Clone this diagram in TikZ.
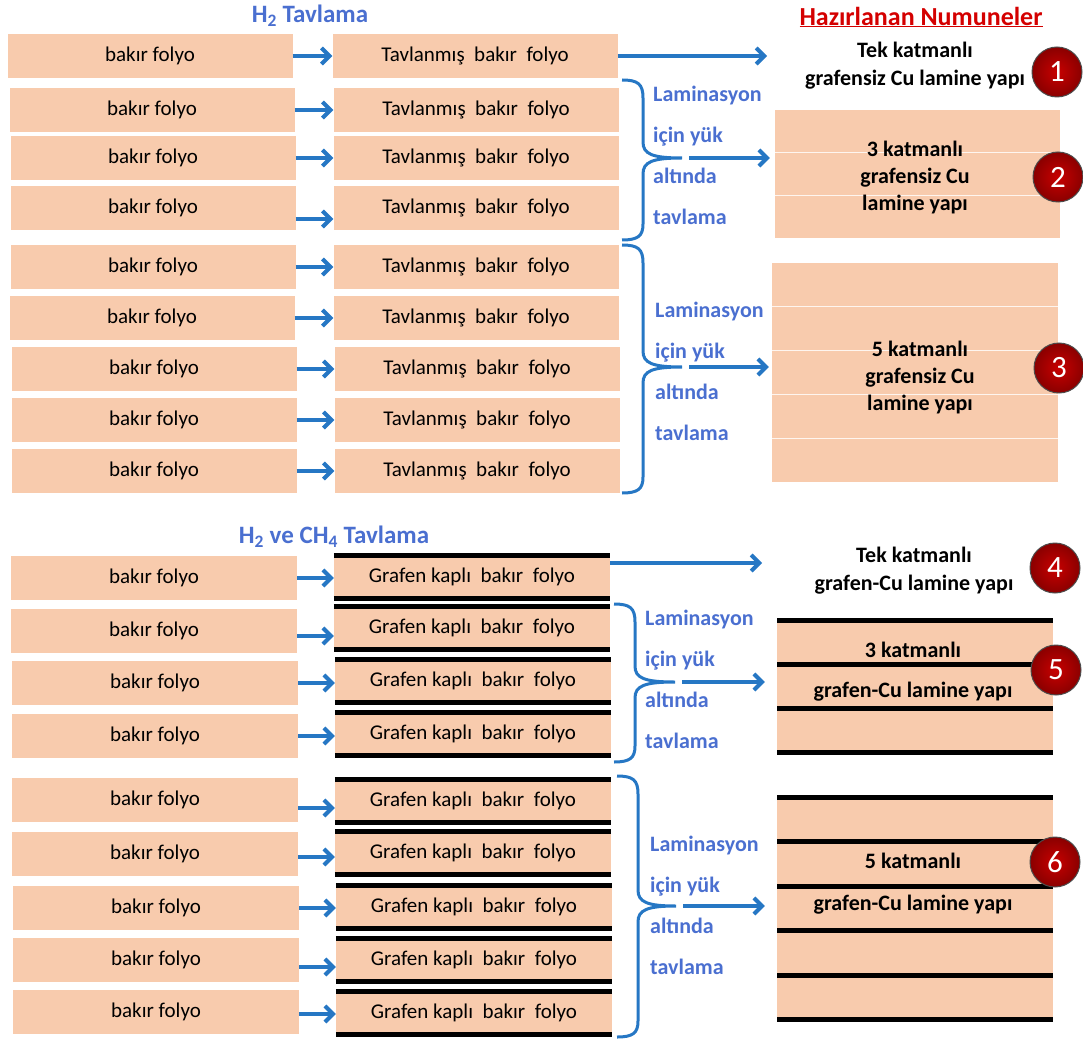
\documentclass[tikz,border=0pt]{standalone}
\usepackage{fontspec}
\setmainfont{Carlito}
\usetikzlibrary{arrows.meta}

\definecolor{peach}{HTML}{F8CBAD}
\definecolor{arrblue}{HTML}{2677C4}
\definecolor{txtblue}{HTML}{4A6FD0}
\definecolor{hdred}{HTML}{D40000}
\definecolor{ballin}{HTML}{C80000}
\definecolor{ballout}{HTML}{8A0000}

\tikzset{
  foil/.style={fill=peach, minimum width=285, minimum height=44, inner sep=0pt,
    font=\fontsize{21}{25}\selectfont},
  grafoil/.style={foil, minimum width=276, minimum height=42},
  gbar/.style={line width=5pt},
  arr/.style={arrblue, line width=4pt, -{Straight Barb[length=8pt,width=16pt]}},
  brc/.style={arrblue, line width=3pt},
  lam/.style={txtblue, anchor=west, align=left, inner sep=0pt,
    font=\bfseries\fontsize{22}{41}\selectfont},
  sample/.style={fill=peach, inner sep=0pt},
  stext/.style={align=center, inner sep=0pt, font=\bfseries\fontsize{22}{28}\selectfont},
  layer/.style={white!80!peach, line width=1.2pt},
  num/.style={circle, minimum size=50, inner sep=0pt, draw=gray!60!black, line width=1pt,
    inner color=ballin, outer color=ballout, text=white, font=\fontsize{31}{36}\selectfont},
  head/.style={txtblue, inner sep=0pt, font=\bfseries\fontsize{25}{30}\selectfont}
}

\begin{document}
\begin{tikzpicture}[x=1pt, y=-1pt]
    \useasboundingbox (0,0) rectangle (1083,1040);

    % Headers
    \node[head] (h1) at (310,16) {H\textsubscript{2} Tavlama};
    \node[head] (h2) at (334,537) {H\textsubscript{2} ve CH\textsubscript{4} Tavlama};
    \node[hdred, inner sep=0pt, font=\bfseries\fontsize{26}{30}\selectfont] (hn) at (921,17)
        {\underline{Hazırlanan Numuneler}};

    % H2 annealing - copper foils
    \node[foil] (b1) at (150,56) {bakır folyo};
    \node[foil] (b2) at (152,110) {bakır folyo};
    \node[foil] (b3) at (153,158) {bakır folyo};
    \node[foil] (b4) at (153,208) {bakır folyo};
    \node[foil] (b5) at (153,267) {bakır folyo};
    \node[foil] (b6) at (152,318) {bakır folyo};
    \node[foil] (b7) at (154,369) {bakır folyo};
    \node[foil] (b8) at (154,420) {bakır folyo};
    \node[foil] (b9) at (154,471) {bakır folyo};

    % H2 annealing - annealed foils
    \node[foil] (t1) at (475,56) {Tavlanmış\ \ bakır\ \ folyo};
    \node[foil] (t2) at (476,110) {Tavlanmış\ \ bakır\ \ folyo};
    \node[foil] (t3) at (476,158) {Tavlanmış\ \ bakır\ \ folyo};
    \node[foil] (t4) at (476,208) {Tavlanmış\ \ bakır\ \ folyo};
    \node[foil] (t5) at (476,267) {Tavlanmış\ \ bakır\ \ folyo};
    \node[foil] (t6) at (476,318) {Tavlanmış\ \ bakır\ \ folyo};
    \node[foil] (t7) at (477,369) {Tavlanmış\ \ bakır\ \ folyo};
    \node[foil] (t8) at (477,420) {Tavlanmış\ \ bakır\ \ folyo};
    \node[foil] (t9) at (477,471) {Tavlanmış\ \ bakır\ \ folyo};

    % Arrows between them
    \draw[arr] (b1.east) -- (b1.east -| t1.west);
    \draw[arr] (b2.east) -- (b2.east -| t2.west);
    \draw[arr] (b3.east) -- (b3.east -| t3.west);
    \draw[arr] ([yshift=-11pt]b4.east) -- ([yshift=-11pt]b4.east -| t4.west);
    \draw[arr] (b5.east) -- (b5.east -| t5.west);
    \draw[arr] (b6.east) -- (b6.east -| t6.west);
    \draw[arr] (b7.east) -- (b7.east -| t7.west);
    \draw[arr] (b8.east) -- (b8.east -| t8.west);
    \draw[arr] (b9.east) -- (b9.east -| t9.west);

    % H2 + CH4 annealing - copper foils
    \node[foil, minimum width=286] (c1) at (154,578) {bakır folyo};
    \node[foil, minimum width=286] (c2) at (154,631) {bakır folyo};
    \node[foil, minimum width=286] (c3) at (155,683) {bakır folyo};
    \node[foil, minimum width=286] (c4) at (155,736) {bakır folyo};
    \node[foil, minimum width=286] (c5) at (155,800) {bakır folyo};
    \node[foil, minimum width=286] (c6) at (155,854) {bakır folyo};
    \node[foil, minimum width=286] (c7) at (156,908) {bakır folyo};
    \node[foil, minimum width=286] (c8) at (156,960) {bakır folyo};
    \node[foil, minimum width=286] (c9) at (156,1012) {bakır folyo};

    % H2 + CH4 annealing - graphene coated foils
    \node[grafoil] (g1) at (472,577) {Grafen kaplı\ \ bakır\ \ folyo};
    \node[grafoil] (g2) at (472,628) {Grafen kaplı\ \ bakır\ \ folyo};
    \node[grafoil] (g3) at (473,681) {Grafen kaplı\ \ bakır\ \ folyo};
    \node[grafoil] (g4) at (473,734) {Grafen kaplı\ \ bakır\ \ folyo};
    \node[grafoil] (g5) at (473,801) {Grafen kaplı\ \ bakır\ \ folyo};
    \node[grafoil] (g6) at (473,853) {Grafen kaplı\ \ bakır\ \ folyo};
    \node[grafoil] (g7) at (474,907) {Grafen kaplı\ \ bakır\ \ folyo};
    \node[grafoil] (g8) at (474,960) {Grafen kaplı\ \ bakır\ \ folyo};
    \node[grafoil] (g9) at (474,1013) {Grafen kaplı\ \ bakır\ \ folyo};
    \foreach \i in {1,...,9}
        \draw[gbar] (g\i.north west) -- (g\i.north east) (g\i.south west) -- (g\i.south east);

    % Arrows between them
    \draw[arr] (c1.east) -- (c1.east -| g1.west);
    \draw[arr] ([yshift=-5pt]c2.east) -- ([yshift=-5pt]c2.east -| g2.west);
    \draw[arr] (c3.east) -- (c3.east -| g3.west);
    \draw[arr] (c4.east) -- (c4.east -| g4.west);
    \draw[arr] ([yshift=-8pt]c5.east) -- ([yshift=-8pt]c5.east -| g5.west);
    \draw[arr] ([yshift=-3pt]c6.east) -- ([yshift=-3pt]c6.east -| g6.west);
    \draw[arr] (c7.east) -- (c7.east -| g7.west);
    \draw[arr] ([yshift=-7pt]c8.east) -- ([yshift=-7pt]c8.east -| g8.west);
    \draw[arr] ([yshift=-2pt]c9.east) -- ([yshift=-2pt]c9.east -| g9.west);

    % Braces
    \draw[brc] (622,80) .. controls (638,80) and (643,84) .. (643,98) -- (643,142)
        .. controls (643,154) and (652,158) .. (682,158)
        .. controls (652,158) and (643,162) .. (643,174) -- (643,224)
        .. controls (643,236) and (638,240) .. (622,240);
    \draw[brc] (622,245) .. controls (638,245) and (643,249) .. (643,263) -- (643,351)
        .. controls (643,363) and (652,367) .. (682,367)
        .. controls (652,367) and (643,371) .. (643,383) -- (643,477)
        .. controls (643,489) and (638,493) .. (622,493);
    \draw[brc] (614,604) .. controls (630,604) and (635,608) .. (635,622) -- (635,666)
        .. controls (635,678) and (644,682) .. (675,682)
        .. controls (644,682) and (635,686) .. (635,698) -- (635,746)
        .. controls (635,758) and (630,762) .. (614,762);
    \draw[brc] (617,776) .. controls (633,776) and (638,780) .. (638,794) -- (638,890)
        .. controls (638,902) and (647,906) .. (676,906)
        .. controls (647,906) and (638,910) .. (638,922) -- (638,1021)
        .. controls (638,1033) and (633,1037) .. (617,1037);

    % Lamination labels
    \node[lam] (l1) at (653,155) {Laminasyon\\için yük\\altında\\tavlama};
    \node[lam] (l2) at (655,371) {Laminasyon\\için yük\\altında\\tavlama};
    \node[lam] (l3) at (645,679) {Laminasyon\\için yük\\altında\\tavlama};
    \node[lam] (l4) at (650,905) {Laminasyon\\için yük\\altında\\tavlama};

    % Prepared samples
    \node[stext] (n1) at (915,66) {Tek katmanlı\\grafensiz Cu\ lamine\ yapı};
    \node[sample, minimum width=285, minimum height=128] (s2) at (917.5,174) {};
    \foreach \y in {152.7,195.3} \draw[layer] (775,\y) -- (1060,\y);
    \node[stext, font=\bfseries\fontsize{22}{27}\selectfont] (n2) at (915,178)
        {3 katmanlı\\grafensiz Cu\\lamine\ yapı};
    \node[sample, minimum width=286, minimum height=219] (s3) at (915,372.5) {};
    \foreach \y in {306.8,350.6,394.4,438.2} \draw[layer] (772,\y) -- (1058,\y);
    \node[stext, font=\bfseries\fontsize{22}{27}\selectfont] (n3) at (920,378)
        {5 katmanlı\\grafensiz Cu\\lamine\ yapı};

    \node[stext] (n4) at (914,571) {Tek katmanlı\\grafen-Cu lamine\ yapı};
    \node[sample, minimum width=276, minimum height=132] (s5) at (915,686) {};
    \foreach \y in {620,664,708,752} \draw[gbar] (777,\y) -- (1053,\y);
    \node[stext, font=\bfseries\fontsize{22}{40}\selectfont] (n5) at (913,672)
        {3 katmanlı\\grafen-Cu lamine\ yapı};
    \node[sample, minimum width=276, minimum height=222] (s6) at (915,908) {};
    \foreach \y in {797,841,886,930,975,1019} \draw[gbar] (777,\y) -- (1053,\y);
    \node[stext, font=\bfseries\fontsize{22}{42}\selectfont] (n6) at (913,884)
        {5 katmanlı\\grafen-Cu lamine\ yapı};

    % Arrows to samples
    \coordinate (e1) at (767,55);
    \coordinate (e4) at (762,563);
    \draw[arr] (t1.east) -- (t1.east -| e1);
    \draw[arr] ([yshift=14pt]g1.east) -- (e4);
    \coordinate (k1) at (689,158);
    \coordinate (k2) at (689,367);
    \coordinate (k3) at (682,682);
    \coordinate (k4) at (683,906);
    \draw[arr, shorten >=5pt] (k1) -- (k1 -| s2.west);
    \draw[arr, shorten >=3pt] (k2) -- (k2 -| s3.west);
    \draw[arr, shorten >=12pt] (k3) -- (k3 -| s5.west);
    \draw[arr, shorten >=12pt] (k4) -- (k4 -| s6.west);

    % Sample numbers
    \node[num] (m1) at (1057,72) {1};
    \node[num] (m2) at (1058,177) {2};
    \node[num] (m3) at (1059,368) {3};
    \node[num] (m4) at (1055,568) {4};
    \node[num] (m5) at (1056,670) {5};
    \node[num] (m6) at (1055,862) {6};
\end{tikzpicture}
\end{document}
